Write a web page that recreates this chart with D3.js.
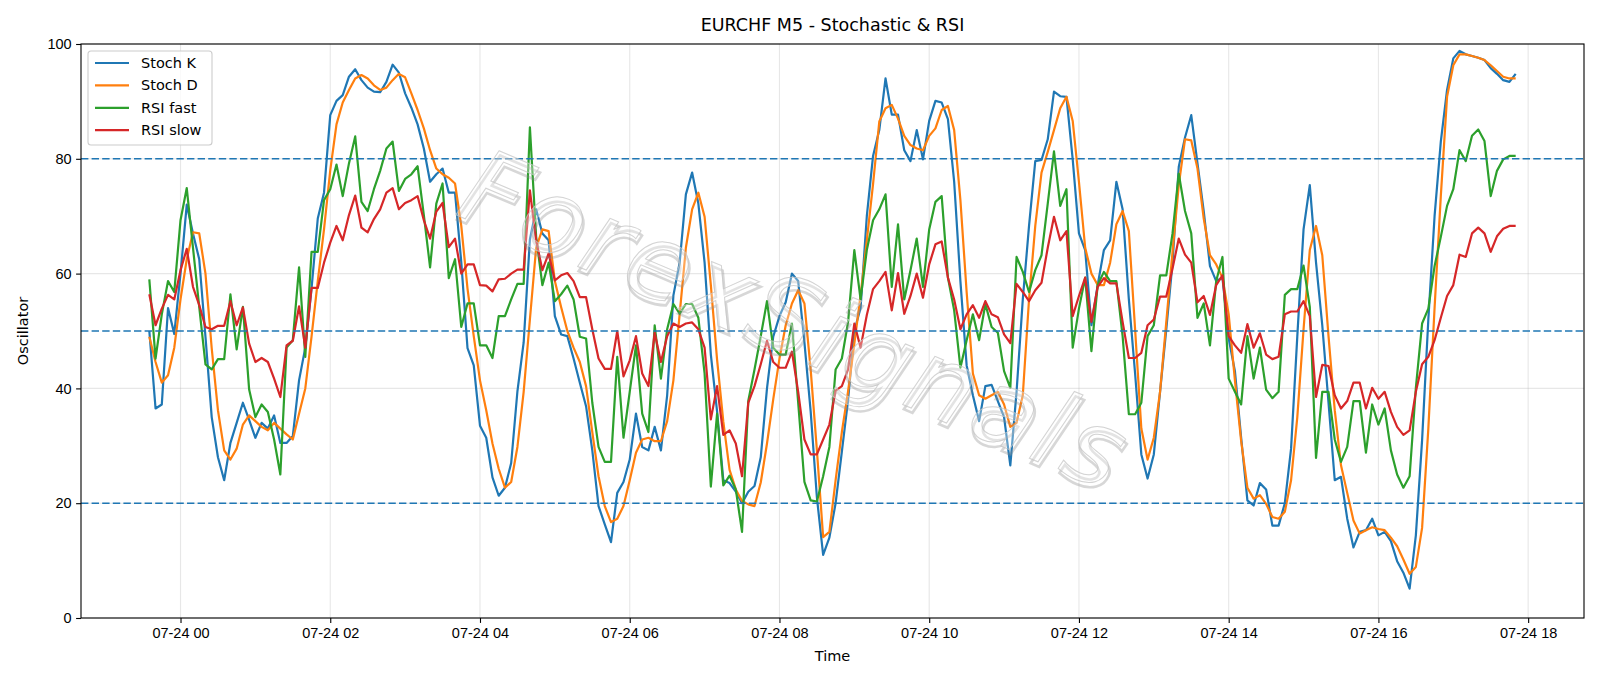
<!DOCTYPE html>
<html>
<head>
<meta charset="utf-8">
<title>EURCHF M5 - Stochastic & RSI</title>
<script src="https://cdn.jsdelivr.net/npm/d3@7"></script>
<style>
  body { margin: 0; background: #fff; }
  svg { display: block; font-family: "DejaVu Sans", sans-serif; }
  .axis path { display: none; }
  .axis line { stroke: #000; stroke-width: 1.1px; }
  .axis text { font-size: 14.5px; fill: #000; }
  .grid line { stroke: #b0b0b0; stroke-opacity: 0.3; stroke-width: 1.1px; }
  .series { fill: none; stroke-width: 2.2px; stroke-linejoin: round; }
  .level { stroke: #1f77b4; stroke-width: 1.4px; stroke-dasharray: 7.4,3.2; }
</style>
</head>
<body>
<script>
// 5 minute bars, 07-23 23:35 .. 07-24 17:50 (UTC)
var startTime = Date.UTC(2025, 6, 23, 23, 35);
var stepMinutes = 5;

var stochK = [50, 36.5, 37.2, 54, 49.5, 60, 72, 67, 62.5, 49, 35, 28, 24, 30.5, 34, 37.5, 34.5, 31.4, 34, 33,
  35.3, 30.5, 30.5, 31.7, 41.4, 47.1, 57.4, 69.6, 74.1, 87.6, 90.1, 91.1, 94.3, 95.6, 93.7, 92.4, 91.7, 91.6, 93.4, 96.4,
  95, 91.4, 88.9, 86, 81.8, 76, 77.3, 78.3, 74.1, 74.1, 62, 47, 44, 33.5, 31.4, 24.5, 21.3, 22.7, 27, 39.5,
  48, 66, 71.2, 67, 65.8, 52.6, 49.4, 49.1, 45.2, 41, 36.9, 29.2, 19.5, 16.3, 13.2, 21.8, 23.7, 27.6, 35.6, 29.8,
  29.2, 33.3, 29.2, 38.8, 56.2, 61.9, 73.8, 77.6, 72.2, 61.9, 45.9, 36, 24, 23.5, 22, 20, 22, 23, 28, 40,
  49, 52.6, 55, 60, 58.7, 48, 36, 21, 11, 14, 20, 29, 38, 50, 54, 70, 80.5, 85, 94, 87.7,
  87.7, 81.5, 79.6, 85, 79.9, 86.6, 90.1, 89.8, 86.9, 76, 58.7, 44, 38.8, 34.3, 40.4, 40.6, 37.8, 35, 26.6, 39.4,
  55.5, 68.3, 79.6, 79.8, 83.4, 91.7, 90.9, 90.8, 79.9, 67, 64.1, 51, 58, 64.1, 65.8, 76, 71.2, 55.5, 42.6, 28.5,
  24.3, 28.5, 39.4, 50.3, 61.9, 78.6, 83.7, 87.6, 79.2, 70.9, 61.3, 58.7, 59.3, 48.7, 43, 31.4, 20.5, 19.6, 23.5, 22.4,
  16.1, 16.1, 20, 29.5, 49.1, 67.7, 75.4, 61.9, 51, 37.5, 24, 24.6, 17.3, 12.3, 15, 15.3, 17.3, 14.4, 15, 13.4,
  9.9, 7.9, 5.1, 14.4, 31, 52, 70, 83, 92, 97.5, 98.8, 98.2, 97.9, 97.6, 97.2, 95.8, 94.8, 93.7, 93.4, 94.8];

var stochD = [49, 44.6, 41, 42.3, 47.1, 55.5, 62.5, 67.2, 67, 60, 47, 36.2, 29.2, 27.6, 29.5, 33.7, 35.3, 34.3, 33.3, 32.7,
  34, 33, 32, 31.1, 35.6, 40, 49, 58.7, 67.7, 78, 86, 89.8, 92, 94, 94.6, 94, 92.8, 92, 92.4, 93.7,
  94.8, 94.2, 91.4, 88.5, 85.3, 81.5, 78.3, 77.3, 76.7, 75.7, 68.3, 57.4, 49.1, 41.4, 36.2, 30.4, 26, 22.7, 23.7, 29.8,
  39.4, 52, 64.5, 67.7, 67.4, 58.7, 54.2, 50, 47.1, 44.6, 40.4, 32.4, 24.7, 19.5, 16.7, 17.3, 19.5, 24, 28.8, 31.1,
  31.4, 30.8, 30.8, 34.3, 41.4, 52.9, 64.5, 71.2, 74.1, 69.9, 58, 45, 34.2, 25.8, 22.4, 20.4, 19.8, 19.5, 23.6, 30.4,
  38.1, 45.2, 51, 54.8, 57.1, 54.8, 43.3, 29.2, 14.1, 15, 24, 32.4, 39.5, 47.8, 56.2, 65.8, 75.6, 86.5, 88.8, 89.4,
  87, 84, 82.4, 81.8, 81.5, 84, 85.3, 88.5, 89.2, 85, 72.8, 56.8, 42.6, 38.8, 38.2, 38.8, 39.4, 37.2, 33.3, 34,
  38.8, 55.5, 68.3, 77.6, 81.2, 85, 88.8, 90.8, 86.6, 76, 64.5, 60, 58, 58, 61.9, 68.6, 70.9, 67.4, 50.3, 33,
  27.6, 31.4, 39.4, 51.6, 63.8, 75.4, 83.4, 83.2, 78.3, 69.6, 63.2, 61.6, 59.3, 52.9, 41.4, 30.8, 22.7, 20.8, 21.4, 19.9,
  17.6, 17.3, 18.5, 24, 35, 50.3, 64.1, 68.3, 63.2, 49.1, 36.2, 26.6, 21.8, 17, 14.7, 15.3, 15.8, 15.5, 15.3, 14,
  12.5, 10.2, 7.7, 8.9, 15.7, 33, 54, 73.5, 90.8, 96.3, 98.2, 98.2, 97.9, 97.6, 97.2, 96.3, 95.3, 94.3, 94, 94];

var rsiFast = [59, 45.2, 52.9, 58.7, 56.8, 69.3, 74.9, 64.5, 54.2, 44.2, 43.3, 45.1, 45.1, 56.4, 46.8, 54.2, 39.8, 35, 37.2, 35.9,
  31.1, 25, 47.1, 48.4, 61.1, 45.5, 63.8, 63.8, 72.8, 74.7, 79, 73.5, 79.2, 83.9, 72.5, 70.9, 74.7, 77.9, 81.8, 83,
  74.4, 76.5, 77.3, 78.7, 70.2, 61.1, 72.2, 75.7, 59.2, 62.5, 50.7, 54.8, 54.8, 47.5, 47.5, 45.3, 52.6, 52.6, 55.5, 58.2,
  58.2, 85.5, 66.4, 58, 61.9, 55.2, 56.4, 57.9, 55.5, 49, 48.7, 37.5, 29.8, 27.2, 27.2, 45.5, 31.4, 39.4, 47.5, 35.6,
  32.4, 51, 41.7, 50.3, 54.7, 53, 54.7, 54.7, 52.3, 42.6, 22.9, 35.6, 23.1, 24.8, 22.4, 15, 37.8, 43.3, 49.1, 55.2,
  47.1, 45.9, 45.9, 51.3, 37.5, 23.7, 20.5, 20.3, 24.7, 29.8, 43.3, 45.2, 51.6, 64.1, 55.5, 64.1, 69.3, 71.2, 73.8, 57.7,
  68.6, 55.5, 60.6, 66.1, 57.7, 67.7, 72.5, 73.5, 59.3, 53.6, 43.6, 48.4, 52.9, 48.4, 54.7, 50.7, 49.7, 43, 40.1, 62.9,
  60.3, 56.8, 60.6, 63.2, 72.2, 81.3, 71.8, 74.7, 47.1, 53.9, 59.3, 46.5, 58, 60.3, 58.7, 58.7, 49.1, 35.5, 35.5, 37.5,
  49.1, 51, 59.7, 59.7, 67, 77.4, 70.9, 67, 52.3, 54.8, 47.5, 58.7, 62.9, 41.7, 39.4, 37.2, 49.1, 41.7, 47.1, 39.8,
  38.3, 39.4, 56.3, 57.3, 57.3, 61.4, 54.2, 27.9, 39.4, 39.4, 31.1, 27.2, 29.8, 37.8, 37.8, 28.8, 37.2, 33.7, 36.5, 29.2,
  25, 22.7, 24.7, 40.1, 51.3, 53.9, 61.3, 66.4, 71.8, 74.7, 81.5, 79.6, 84, 85.1, 83.1, 73.5, 77.9, 79.9, 80.5, 80.5];

var rsiSlow = [56.4, 51, 53.9, 56.3, 55.5, 60.6, 64.3, 57.7, 54.5, 50.7, 50.3, 50.9, 50.9, 55.2, 51, 54.1, 47.8, 44.6, 45.3, 44.6,
  41.7, 38.5, 47.5, 48.3, 54.3, 47.1, 57.5, 57.5, 61.9, 65.4, 68.3, 65.8, 70.2, 73.6, 68, 67.2, 69.5, 71.2, 74.1, 74.9,
  71.2, 72.3, 72.8, 73.5, 69.3, 66.1, 70.8, 72.3, 64.6, 66.1, 60, 61.6, 61.6, 58, 57.9, 56.9, 59, 59.1, 60, 60.7,
  60.7, 74.5, 65.8, 60.6, 63.5, 58.8, 59.7, 60.1, 58.7, 55.9, 55.9, 50.3, 45.2, 43.4, 43.4, 50, 42.1, 44.9, 49.1, 42.6,
  40.4, 49.7, 44.6, 49.1, 51.3, 50.7, 51.3, 51.5, 50.3, 47.1, 34.6, 40.4, 31.9, 32.7, 30.4, 24.7, 37.5, 40.4, 44.2, 48.3,
  44.6, 43.6, 43.6, 46.4, 39.4, 31.1, 28.5, 28.5, 31.1, 33.7, 39.6, 40.4, 43.3, 51.3, 47.1, 52.8, 57.3, 58.7, 60.3, 53.6,
  60.1, 53, 56.1, 60, 55.8, 61.6, 65.1, 65.6, 59.3, 55.5, 50.3, 52.9, 54.5, 52.3, 55.2, 52.9, 52.4, 49.4, 47.9, 58.2,
  56.8, 55.2, 57.1, 58.4, 64.5, 69.9, 65.8, 67.4, 52.6, 56.1, 59.3, 51.6, 57.7, 59.2, 58.3, 58.3, 51.6, 45.3, 45.3, 46.2,
  51, 52, 56, 56, 60.9, 66.1, 63.3, 61.9, 55, 56.1, 52.8, 58, 59.7, 49.1, 47.5, 46.2, 51.2, 47.1, 49.6, 45.9,
  45.1, 45.5, 52.9, 53.4, 53.4, 55.2, 52.6, 38.5, 44.1, 43.9, 38.8, 36.5, 37.8, 41, 41, 36.5, 40.1, 38.2, 39.4, 35.9,
  33.3, 31.9, 32.7, 39.4, 44.2, 45.5, 48.4, 52.3, 56.1, 58, 63.3, 62.9, 67, 68, 67, 63.8, 66.5, 67.8, 68.3, 68.3];

var seriesNames = ["Stoch K", "Stoch D", "RSI fast", "RSI slow"];
var seriesColors = ["#1f77b4", "#ff7f0e", "#2ca02c", "#d62728"];
var levels = [20, 50, 80];
var yTicks = [0, 20, 40, 60, 80, 100];

var times = stochK.map(function(d, i) {
  return d3.utcMinute.offset(new Date(startTime), i * stepMinutes);
});
var series = [stochK, stochD, rsiFast, rsiSlow].map(function(vals, k) {
  return {name: seriesNames[k], color: seriesColors[k], values: vals};
});

var width = 1600, height = 686;
var margin = {top: 44, right: 16, bottom: 68, left: 81};
var w = width - margin.left - margin.right,
    h = height - margin.top - margin.bottom;

var svg = d3.select("body").append("svg")
    .attr("width", width)
    .attr("height", height);

var g = svg.append("g")
    .attr("transform", "translate(" + margin.left + "," + margin.top + ")");

// matplotlib style 5% margin on the time axis
var t0 = +times[0], t1 = +times[times.length - 1];
var pad = (t1 - t0) * 0.05;
var x = d3.scaleUtc().domain([new Date(t0 - pad), new Date(t1 + pad)]).range([0, w]);
var y = d3.scaleLinear().domain([0, 100]).range([h, 0]);

var xTicks = x.ticks(d3.utcHour.every(2));

// grid
g.append("g").attr("class", "grid")
  .selectAll("line").data(xTicks).enter().append("line")
    .attr("x1", function(d) { return x(d); }).attr("x2", function(d) { return x(d); })
    .attr("y1", 0).attr("y2", h);
g.append("g").attr("class", "grid")
  .selectAll("line").data(yTicks).enter().append("line")
    .attr("x1", 0).attr("x2", w)
    .attr("y1", function(d) { return y(d); }).attr("y2", function(d) { return y(d); });

// lines
var line = d3.line()
    .x(function(d, i) { return x(times[i]); })
    .y(function(d) { return y(d); });

g.selectAll(".series").data(series).enter().append("path")
    .attr("class", "series")
    .attr("stroke", function(d) { return d.color; })
    .attr("d", function(d) { return line(d.values); });

// 20 / 50 / 80 levels
g.selectAll(".level").data(levels).enter().append("line")
    .attr("class", "level")
    .attr("x1", 0).attr("x2", w)
    .attr("y1", function(d) { return y(d); }).attr("y2", function(d) { return y(d); });

// watermark, thin outlined letters with a soft shadow
var wm = g.append("g")
    .attr("transform", "translate(" + (x(new Date(Date.UTC(2025, 6, 24, 8, 0))) + 2) + "," + (y(50) + 22) + ") rotate(23)")
    .style("font-family", "'DejaVu Sans', sans-serif")
    .style("font-style", "italic")
    .style("font-size", "104px")
    .style("letter-spacing", "4px")
    .attr("text-anchor", "middle");
wm.append("text").text("ForexSignals")
    .attr("x", 3).attr("y", 4)
    .attr("fill", "none").attr("stroke", "#8c8c8c").attr("stroke-opacity", 0.35).attr("stroke-width", 2.6);
wm.append("text").text("ForexSignals")
    .attr("fill", "#fff").attr("fill-opacity", 0.3)
    .attr("stroke", "#c4c4c4").attr("stroke-opacity", 0.75).attr("stroke-width", 1);

// axes
var xAxis = d3.axisBottom(x)
    .tickValues(xTicks)
    .tickFormat(d3.utcFormat("%m-%d %H"))
    .tickSize(4.9).tickPadding(4.5);
g.append("g").attr("class", "x axis")
    .attr("transform", "translate(0," + h + ")")
    .call(xAxis);

var yAxis = d3.axisLeft(y)
    .tickValues(yTicks)
    .tickFormat(d3.format("d"))
    .tickSize(4.9).tickPadding(4.5);
g.append("g").attr("class", "y axis").call(yAxis);

// frame
g.append("rect")
    .attr("width", w).attr("height", h)
    .attr("fill", "none").attr("stroke", "#000").attr("stroke-width", 1.1);

// labels
svg.append("text")
    .attr("x", margin.left + w / 2).attr("y", 31)
    .attr("text-anchor", "middle")
    .style("font-size", "17.5px")
    .text("EURCHF M5 - Stochastic & RSI");

svg.append("text")
    .attr("x", margin.left + w / 2).attr("y", 661)
    .attr("text-anchor", "middle")
    .style("font-size", "14.5px")
    .text("Time");

svg.append("text")
    .attr("transform", "translate(28," + (margin.top + h / 2) + ") rotate(-90)")
    .attr("text-anchor", "middle")
    .style("font-size", "14.5px")
    .text("Oscillator");

// legend
var legend = g.append("g").attr("transform", "translate(7,7)");
legend.append("rect")
    .attr("width", 124).attr("height", 94).attr("rx", 3)
    .attr("fill", "#fff").attr("fill-opacity", 0.8)
    .attr("stroke", "#cccccc").attr("stroke-width", 1.1);
var item = legend.selectAll(".item").data(series).enter().append("g")
    .attr("class", "item")
    .attr("transform", function(d, i) { return "translate(0," + (12 + i * 22.4) + ")"; });
item.append("line")
    .attr("x1", 7).attr("x2", 41)
    .attr("stroke", function(d) { return d.color; })
    .attr("stroke-width", 2.2);
item.append("text")
    .attr("x", 53).attr("y", 5)
    .style("font-size", "14.5px")
    .text(function(d) { return d.name; });
</script>
</body>
</html>
